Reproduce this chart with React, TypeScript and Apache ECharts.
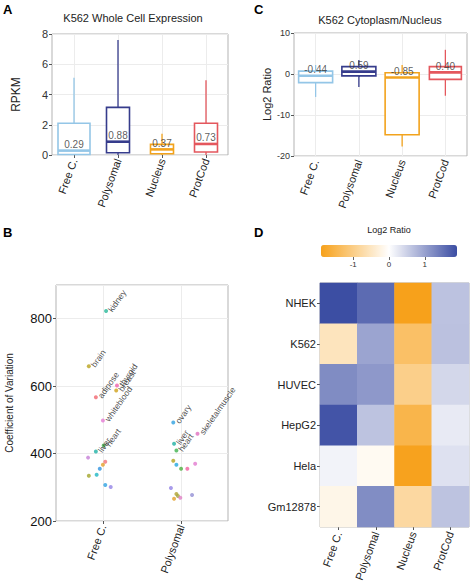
import React, { useEffect, useRef } from 'react';
import * as echarts from 'echarts';

// ---------- shared categories ----------
const boxCategories = ['Free C.', 'Polysomal', 'Nucleus', 'ProtCod'];

// ---------- Panel A: K562 whole cell expression (RPKM) ----------
const rpkmLow = [0, 0, 0, 0];
const rpkmQ1 = [0.03, 0.15, 0.08, 0.2];
const rpkmMedian = [0.29, 0.88, 0.37, 0.73];
const rpkmQ3 = [2.1, 3.15, 0.7, 2.1];
const rpkmHigh = [5.1, 7.6, 1.4, 4.95];
const rpkmTicks = { min: 0, max: 8, interval: 2 };

// ---------- Panel C: K562 cytoplasm / nucleus (log2 ratio) ----------
const ratioLow = [-5.6, -3.2, -17.7, -5.3];
const ratioQ1 = [-2.1, -0.45, -14.8, -1.3];
const ratioMedian = [-0.44, 0.59, -0.85, 0.4];
const ratioQ3 = [0.7, 1.8, 0.3, 1.8];
const ratioHigh = [2.2, 3.4, 2.2, 5.9];
const ratioTicks = { min: -20, max: 10, interval: 10 };

// ---------- Panel B: coefficient of variation per tissue ----------
const groupNames = ['Free C.', 'Polysomal'];
const freeCX = [1.04, 0.82, 1.18, 1.17, 0.91, 1.0, 1.01, 0.91, 0.81, 1.03, 1.0, 0.96, 0.82, 0.92, 1.03, 1.1];
const freeCCV = [823, 659, 602, 587, 567, 498, 424, 406, 388, 376, 367, 355, 334, 337, 307, 301];
const freeCTissue = ['kidney', 'brain', 'thyroid', 'breast', 'adipose', 'whiteblood', 'heart', 'liver', '', '', '', '', '', '', '', ''];
const polyX = [1.9, 1.91, 1.94, 2.21, 1.9, 1.94, 2.0, 2.08, 2.18, 1.87, 1.94, 1.96, 1.99, 1.91, 2.14];
const polyCV = [492, 429, 409, 459, 379, 367, 355, 355, 370, 298, 280, 274, 269, 266, 277];
const polyTissue = ['ovary', 'liver', 'heart', 'skeletalmuscle', '', '', '', '', '', '', '', '', '', '', ''];
const cvTicks = { min: 200, max: 900, interval: 200 };

// ---------- Panel D: heatmap of log2 ratios ----------
const cellLines = ['NHEK', 'K562', 'HUVEC', 'HepG2', 'Hela', 'Gm12878'];
const heatFreeC = [1.89, -0.55, 1.23, 1.82, 0.13, -0.19];
const heatPolysomal = [1.58, 0.97, 1.1, 0.64, -0.11, 1.22];
const heatNucleus = [-1.89, -1.27, -0.97, -1.49, -1.87, -0.78];
const heatProtCod = [0.65, 0.66, 0.43, 0.22, 0.32, 0.64];
const legendRange = [-1.9, 1.9];
const legendTicks = [-1, 0, 1];

// ---------- styles ----------
const FONT = "'Liberation Sans', Arial, Helvetica, sans-serif";
const boxColors = ['#94c6e7', '#363c8c', '#f2a31d', '#e4575d'];
const boxWidthsA = [32, 23, 23, 23];
const boxWidthsC = [34, 34, 34, 32];
const freeCColors = ['#29b89a', '#b9a21c', '#f062ad', '#d0a019', '#f1676f', '#e57bd5', '#3fb14e', '#1fb2a6', '#c57fd7', '#f37379', '#e3a02c', '#2f94e0', '#a3a52b', '#1eb7c4', '#2fa3e2', '#9483e6'];
const polyColors = ['#2fa0e0', '#21b0a2', '#3fb14e', '#e06fbf', '#b3a21f', '#22a8e0', '#4fb041', '#f0609f', '#e27bd0', '#9483e6', '#b0a330', '#a5a540', '#e080c4', '#e3a02c', '#9490d4'];
const heatColors = ['#f7a11a', '#ffffff', '#3b4da3'];
const gridLineColor = '#ececec';
const borderColor = '#b3b3b3';

function boxRenderer(widths: number[], colors: string[]) {
  return (_params: any, api: any) => {
    const i = api.value(0);
    const pLow = api.coord([i, api.value(1)]);
    const pQ1 = api.coord([i, api.value(2)]);
    const pMed = api.coord([i, api.value(3)]);
    const pQ3 = api.coord([i, api.value(4)]);
    const pHigh = api.coord([i, api.value(5)]);
    const w = widths[i];
    const c = colors[i];
    const x = pMed[0];
    return {
      type: 'group',
      children: [
        { type: 'line', shape: { x1: x, y1: pHigh[1], x2: x, y2: pQ3[1] }, style: { stroke: c, lineWidth: 1.3 } },
        { type: 'line', shape: { x1: x, y1: pQ1[1], x2: x, y2: pLow[1] }, style: { stroke: c, lineWidth: 1.3 } },
        { type: 'rect', shape: { x: x - w / 2, y: pQ3[1], width: w, height: pQ1[1] - pQ3[1] }, style: { fill: '#ffffff', stroke: c, lineWidth: 1.6 } },
        { type: 'line', shape: { x1: x - w / 2, y1: pMed[1], x2: x + w / 2, y2: pMed[1] }, style: { stroke: c, lineWidth: 2.6 } },
      ],
    };
  };
}

function boxData(low: number[], q1: number[], med: number[], q3: number[], high: number[]) {
  return low.map((_, i) => [i, low[i], q1[i], med[i], q3[i], high[i]]);
}

const gridBase = { show: true, borderColor, borderWidth: 1, backgroundColor: 'transparent', containLabel: false };

function catAxis(gridIndex: number) {
  return {
    type: 'category',
    gridIndex,
    data: boxCategories,
    axisLine: { show: false },
    axisTick: { show: true, alignWithLabel: true, length: 3, lineStyle: { color: '#555' } },
    axisLabel: { rotate: 70, fontSize: 11, color: '#222', margin: 4, fontFamily: FONT },
    splitLine: { show: false },
  };
}

function valAxis(gridIndex: number, ticks: any, fontSize: number, name: string, nameGap: number, nameSize: number) {
  return {
    type: 'value',
    gridIndex,
    min: ticks.min,
    max: ticks.max,
    interval: ticks.interval,
    name,
    nameLocation: 'middle',
    nameGap,
    nameTextStyle: { fontSize: nameSize, color: '#222', fontFamily: FONT },
    axisLine: { show: false },
    axisTick: { show: true, length: 3, lineStyle: { color: '#555' } },
    axisLabel: { fontSize, color: '#333', margin: 4, fontFamily: FONT },
    splitLine: { show: true, lineStyle: { color: gridLineColor, width: 1 } },
  };
}

function vGridSeries(xAxisIndex: number, yAxisIndex: number, xs: any[]) {
  return {
    type: 'line',
    xAxisIndex,
    yAxisIndex,
    data: [],
    silent: true,
    markLine: {
      silent: true,
      symbol: 'none',
      z: 0,
      animation: false,
      label: { show: false },
      lineStyle: { color: gridLineColor, type: 'solid', width: 1 },
      data: xs.map((x) => ({ xAxis: x })),
    },
  };
}

function medianLabels(xAxisIndex: number, yAxisIndex: number, med: number[]) {
  return {
    type: 'scatter',
    xAxisIndex,
    yAxisIndex,
    symbolSize: 0,
    silent: true,
    z: 5,
    data: med.map((m, i) => [i, m]),
    label: {
      show: true,
      position: 'top',
      distance: 1,
      fontSize: 10,
      color: '#333',
      fontFamily: FONT,
      formatter: (p: any) => Number(p.value[1]).toFixed(2),
    },
  };
}

function tissuePoints(xs: number[], ys: number[], names: string[], colors: string[]) {
  return xs.map((x, i) => ({
    value: [x, ys[i]],
    name: names[i],
    itemStyle: { color: colors[i] },
  }));
}

export default function App() {
  const ref = useRef<HTMLDivElement>(null);

  useEffect(() => {
    if (!ref.current) return;
    const chart = echarts.init(ref.current, undefined, { renderer: 'svg' });

    const heatData: any[] = [];
    const heatCols = [heatFreeC, heatPolysomal, heatNucleus, heatProtCod];
    cellLines.forEach((_, r) => {
      heatCols.forEach((col, c) => heatData.push([c, r, col[r]]));
    });

    const scatterData = [
      ...tissuePoints(freeCX, freeCCV, freeCTissue, freeCColors),
      ...tissuePoints(polyX, polyCV, polyTissue, polyColors),
    ];

    const option: any = {
      animation: false,
      backgroundColor: '#ffffff',
      textStyle: { fontFamily: FONT },
      title: [
        { text: 'A', left: 3, top: 3, padding: 0, textStyle: { fontSize: 13, fontWeight: 'bold', color: '#000', fontFamily: FONT } },
        { text: 'C', left: 254, top: 3, padding: 0, textStyle: { fontSize: 13, fontWeight: 'bold', color: '#000', fontFamily: FONT } },
        { text: 'B', left: 3, top: 226, padding: 0, textStyle: { fontSize: 13, fontWeight: 'bold', color: '#000', fontFamily: FONT } },
        { text: 'D', left: 254, top: 226, padding: 0, textStyle: { fontSize: 13, fontWeight: 'bold', color: '#000', fontFamily: FONT } },
        { text: 'K562 Whole Cell Expression', left: 133, top: 12, padding: 0, textAlign: 'center', textStyle: { fontSize: 11, fontWeight: 'normal', color: '#222', fontFamily: FONT } },
        { text: 'K562 Cytoplasm/Nucleus', left: 380, top: 14, padding: 0, textAlign: 'center', textStyle: { fontSize: 11, fontWeight: 'normal', color: '#222', fontFamily: FONT } },
        { text: 'Log2 Ratio', left: 389, top: 225, padding: 0, textAlign: 'center', textStyle: { fontSize: 9, fontWeight: 'normal', color: '#222', fontFamily: FONT } },
      ],
      grid: [
        { ...gridBase, left: 52, top: 34, width: 176, height: 121 },
        { ...gridBase, left: 294, top: 33, width: 173, height: 123 },
        { ...gridBase, left: 56, top: 285, width: 172, height: 236 },
        { ...gridBase, left: 320, top: 283, width: 149, height: 244 },
        { show: false, left: 321, top: 245, width: 136, height: 12 },
      ],
      xAxis: [
        catAxis(0),
        catAxis(1),
        {
          type: 'value',
          gridIndex: 2,
          min: 0.4,
          max: 2.6,
          axisLine: { show: false },
          axisTick: { show: true, customValues: [1, 2], length: 3, lineStyle: { color: '#555' } },
          axisLabel: {
            customValues: [1, 2],
            rotate: 70,
            fontSize: 11,
            color: '#222',
            margin: 4,
            fontFamily: FONT,
            formatter: (v: number) => groupNames[Math.round(v) - 1] ?? '',
          },
          splitLine: { show: false },
        },
        {
          type: 'category',
          gridIndex: 3,
          data: boxCategories,
          axisLine: { show: false },
          axisTick: { show: true, alignWithLabel: true, length: 3, lineStyle: { color: '#555' } },
          axisLabel: { rotate: 70, fontSize: 11, color: '#222', margin: 5, fontFamily: FONT },
          splitLine: { show: false },
        },
        {
          type: 'value',
          gridIndex: 4,
          min: legendRange[0],
          max: legendRange[1],
          axisLine: { show: false },
          axisTick: { show: true, customValues: legendTicks, length: 3, lineStyle: { color: '#666' } },
          axisLabel: { customValues: legendTicks, fontSize: 8, color: '#333', margin: 3, fontFamily: FONT },
          splitLine: { show: false },
        },
      ],
      yAxis: [
        valAxis(0, rpkmTicks, 11, 'RPKM', 30, 12),
        valAxis(1, ratioTicks, 9, 'Log2 Ratio', 22, 11),
        {
          ...valAxis(2, cvTicks, 13, 'Coefficient of Variation', 42, 10),
          axisLabel: { fontSize: 13, color: '#111', margin: 4, fontFamily: FONT, showMaxLabel: false },
        },
        {
          type: 'category',
          gridIndex: 3,
          data: cellLines,
          inverse: true,
          axisLine: { show: false },
          axisTick: { show: true, alignWithLabel: true, length: 3, lineStyle: { color: '#555' } },
          axisLabel: { fontSize: 11, color: '#222', margin: 4, fontFamily: FONT },
          splitLine: { show: false },
        },
        { type: 'value', gridIndex: 4, min: 0, max: 1, show: false },
      ],
      visualMap: {
        type: 'continuous',
        seriesIndex: 8,
        dimension: 2,
        min: legendRange[0],
        max: legendRange[1],
        orient: 'horizontal',
        left: 321,
        top: 245,
        itemWidth: 12,
        itemHeight: 136,
        padding: 0,
        calculable: false,
        hoverLink: false,
        realtime: false,
        inRange: { color: heatColors },
      },
      series: [
        // 0: A gridlines
        vGridSeries(0, 0, boxCategories),
        // 1: A boxes
        {
          type: 'custom',
          xAxisIndex: 0,
          yAxisIndex: 0,
          z: 3,
          renderItem: boxRenderer(boxWidthsA, boxColors),
          encode: { x: 0, y: [1, 2, 3, 4, 5] },
          data: boxData(rpkmLow, rpkmQ1, rpkmMedian, rpkmQ3, rpkmHigh),
        },
        // 2: A median labels
        medianLabels(0, 0, rpkmMedian),
        // 3: C gridlines
        vGridSeries(1, 1, boxCategories),
        // 4: C boxes
        {
          type: 'custom',
          xAxisIndex: 1,
          yAxisIndex: 1,
          z: 3,
          renderItem: boxRenderer(boxWidthsC, boxColors),
          encode: { x: 0, y: [1, 2, 3, 4, 5] },
          data: boxData(ratioLow, ratioQ1, ratioMedian, ratioQ3, ratioHigh),
        },
        // 5: C median labels
        medianLabels(1, 1, ratioMedian),
        // 6: B gridlines
        vGridSeries(2, 2, [1, 2]),
        // 7: B scatter
        {
          type: 'scatter',
          xAxisIndex: 2,
          yAxisIndex: 2,
          symbolSize: 4,
          z: 4,
          data: scatterData,
          label: {
            show: true,
            position: 'right',
            rotate: 55,
            distance: 2,
            fontSize: 8.5,
            color: '#222',
            fontFamily: FONT,
            formatter: (p: any) => p.name || '',
          },
          labelLayout: { hideOverlap: false },
        },
        // 8: D heatmap
        {
          type: 'heatmap',
          xAxisIndex: 3,
          yAxisIndex: 3,
          data: heatData,
          itemStyle: { borderWidth: 0 },
        },
      ],
    };

    chart.setOption(option);
    return () => chart.dispose();
  }, []);

  return (
    <div
      ref={ref}
      style={{ position: 'absolute', left: 0, top: 0, width: 474, height: 587, background: '#ffffff' }}
    />
  );
}
